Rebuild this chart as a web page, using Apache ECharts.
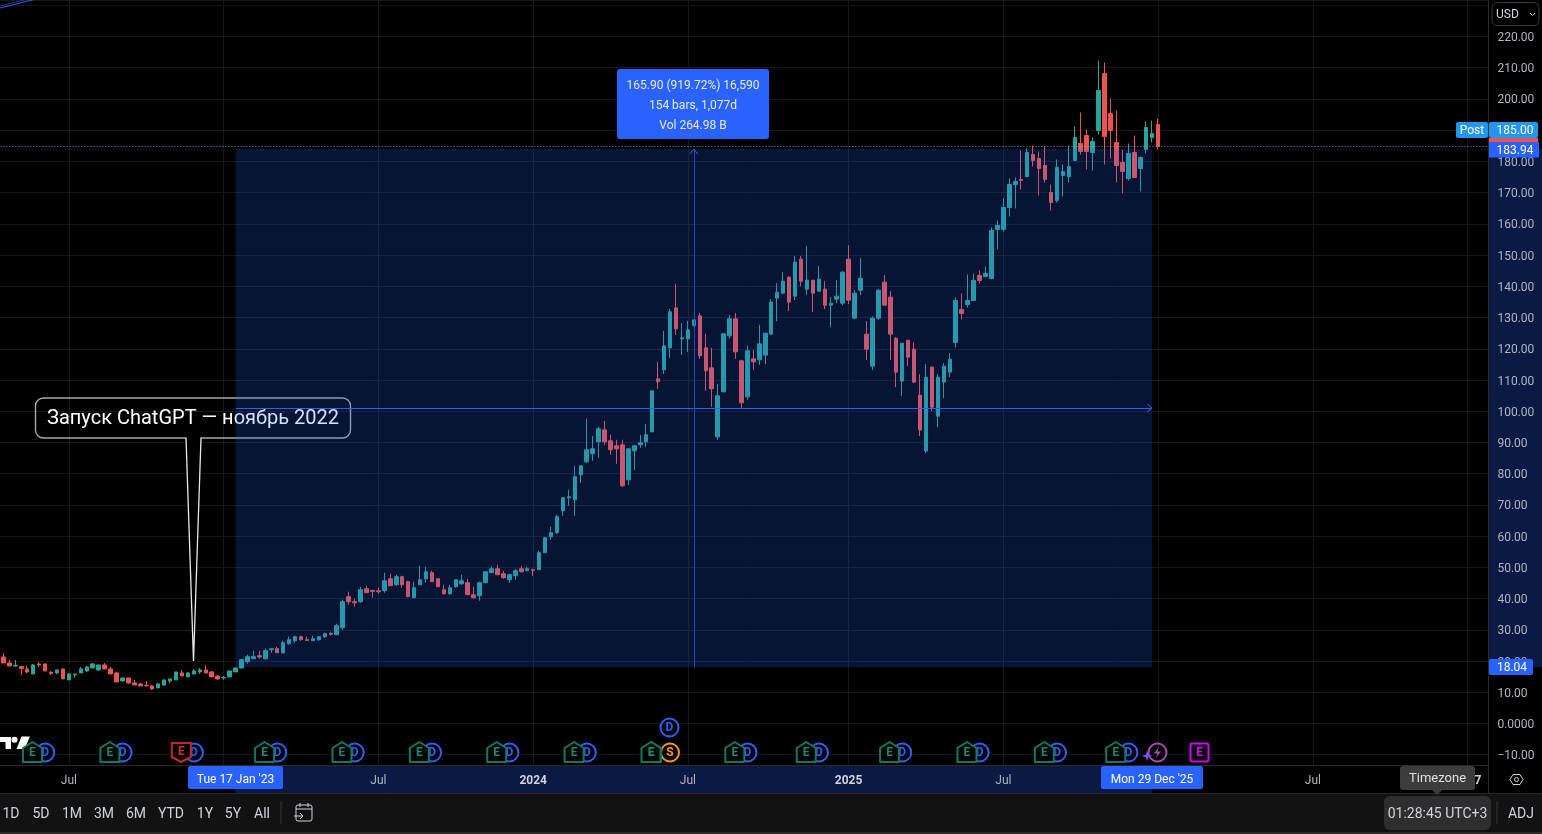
<!DOCTYPE html>
<html><head><meta charset="utf-8">
<style>html,body{margin:0;padding:0;background:#000;overflow:hidden}#c{width:1542px;height:834px}</style>
<script src="https://cdn.jsdelivr.net/npm/echarts@6/dist/echarts.min.js"></script>
</head><body><div id="c"></div>
<script>
const firstWeek = '2022-04-18';
const weekCount = 250;
const opens = [21.31,19.39,18.43,18.22,17.47,15.87,19.07,19.07,16.40,16.19,
17.47,13.95,15.55,16.19,16.83,17.79,17.15,18.75,17.47,16.19,
13.63,14.59,12.99,12.67,12.24,12.03,11.39,12.35,13.63,13.95,
16.19,14.91,15.87,16.51,17.15,16.51,15.23,14.59,14.91,16.51,
17.76,19.79,20.75,21.71,20.75,23.63,23.95,22.67,25.55,26.51,
27.79,26.83,26.51,26.83,27.79,28.86,28.43,30.67,40.60,39.00,
39.00,43.16,42.62,42.52,42.52,46.36,44.44,47.00,45.40,40.28,
44.44,46.36,48.28,46.36,42.84,41.56,43.80,44.76,45.08,41.24,
40.92,45.08,48.28,49.56,47.96,46.04,47.32,49.56,48.92,49.24,
49.24,54.68,59.81,61.09,68.11,72.27,71.63,79.64,83.80,86.36,
90.20,94.04,90.52,88.92,89.24,78.04,87.32,89.24,90.20,93.40,
110.37,113.25,120.30,133.10,123.18,123.18,127.34,130.54,120.30,113.89,
91.80,106.21,124.14,129.58,116.13,104.61,116.78,116.45,117.96,124.68,
136.21,137.81,142.93,136.85,148.70,139.09,141.97,138.45,139.09,133.97,
135.89,134.61,148.70,129.81,138.77,124.68,114.44,129.81,141.33,136.53,
123.40,109.64,122.76,119.88,105.15,87.23,114.12,98.43,109.32,112.52,
122.03,132.59,134.19,135.47,143.48,143.16,142.52,158.21,158.21,165.25,
172.61,174.21,175.17,182.22,180.94,178.70,170.05,167.49,175.49,175.17,
180.30,185.74,188.30,182.86,189.90,208.15,195.34,186.06,179.66,174.53,
182.86,177.74,183.82,187.66,191.82];
const closes = [19.39,18.43,18.64,17.58,16.51,18.75,18.75,16.83,15.98,17.15,
14.27,15.87,15.87,17.47,18.11,19.07,18.75,17.47,15.87,13.31,
14.59,12.99,12.35,12.03,12.03,11.07,12.67,13.95,14.27,16.51,
15.23,16.19,16.83,17.15,16.19,14.91,14.27,14.80,16.83,17.79,
20.43,21.39,21.39,21.28,23.31,23.95,22.67,25.87,26.83,27.79,
26.83,26.62,27.15,27.79,28.75,28.54,31.31,39.00,39.00,38.68,
42.84,41.88,42.30,42.20,45.72,44.12,47.00,44.44,40.60,43.48,
46.04,48.60,45.40,43.80,41.56,43.48,46.04,45.72,41.24,40.28,
45.08,48.60,49.56,47.64,46.68,47.64,48.92,48.60,49.56,49.03,
54.68,59.49,61.09,66.21,72.27,72.59,79.00,82.52,87.64,87.96,
94.36,90.20,87.64,87.96,76.11,87.96,88.92,89.88,92.44,106.53,
109.41,120.94,131.82,126.38,123.50,126.06,129.26,117.74,112.93,107.17,
104.93,124.78,129.58,119.02,102.69,119.34,115.81,121.58,125.00,134.93,
138.13,141.65,134.93,147.74,141.65,141.97,137.81,142.29,133.97,134.61,
136.85,144.53,135.57,137.81,142.61,119.88,129.81,138.77,133.97,124.68,
112.52,121.80,117.32,109.32,93.95,110.92,101.31,110.92,114.44,116.68,
135.47,131.31,135.47,141.88,141.88,144.12,157.89,159.49,165.25,172.61,
173.57,173.89,182.86,180.30,177.74,174.21,166.85,178.06,176.78,178.38,
187.66,183.18,183.18,186.38,202.71,187.98,189.90,178.70,176.78,182.54,
174.85,181.26,190.86,188.94,184.78];
const lows = [19.39,18.43,18.11,15.55,15.98,15.87,18.11,16.83,15.55,15.76,
14.27,13.95,14.59,16.19,16.51,17.79,16.83,17.47,15.87,13.31,
13.31,12.67,12.35,12.03,12.03,10.75,11.39,12.03,12.99,13.95,
15.23,14.91,15.55,15.87,16.19,14.91,13.95,13.95,14.91,16.51,
17.76,19.15,20.75,20.75,20.43,22.67,22.67,22.35,25.23,25.87,
26.51,26.51,26.51,26.51,27.47,28.11,28.43,30.03,38.04,37.40,
38.68,41.88,40.28,41.56,41.88,44.12,44.12,43.48,40.60,40.28,
44.44,45.08,45.40,43.80,41.24,41.24,43.48,44.44,41.24,39.96,
39.32,45.08,48.28,47.64,46.36,45.08,46.04,48.28,48.92,47.32,
49.24,54.68,58.85,60.77,66.51,69.71,66.51,77.08,83.48,84.12,
85.08,89.24,86.04,83.16,75.79,76.43,81.24,88.28,88.60,93.40,
107.17,111.97,117.10,124.46,118.06,119.02,127.34,116.78,106.53,101.41,
90.84,106.21,123.18,116.78,101.09,103.65,113.25,114.85,115.08,124.68,
128.85,137.49,132.05,135.57,140.05,137.17,131.73,138.45,132.69,126.93,
134.61,133.97,134.29,129.49,137.17,116.36,113.16,129.17,133.97,116.36,
107.72,104.83,114.44,109.00,92.03,86.58,100.03,94.91,104.19,110.92,
120.43,129.39,133.23,135.47,140.92,142.84,142.20,151.80,157.57,162.37,
164.93,171.01,174.85,178.38,169.09,173.25,164.29,166.85,168.77,173.25,
180.30,182.22,177.42,177.10,188.62,179.02,180.94,173.25,169.73,173.89,
174.85,170.37,182.54,186.06,183.82];
const highs = [22.59,20.35,20.35,18.43,18.43,19.07,19.71,19.07,16.83,17.15,
17.47,16.08,15.87,18.11,18.43,19.39,18.75,19.39,18.11,16.51,
14.59,14.59,13.95,12.99,13.63,12.35,12.99,13.95,14.27,16.51,
17.15,16.51,17.47,17.79,18.75,16.83,15.23,15.23,16.83,17.79,
20.75,22.03,23.31,23.31,23.95,23.95,24.59,26.51,27.79,28.11,
28.11,27.79,28.11,27.79,29.07,29.39,31.95,39.64,42.20,39.96,
43.80,44.12,42.84,43.48,48.28,47.96,47.64,47.32,45.72,45.40,
50.52,50.20,48.92,46.36,44.44,44.44,46.04,47.64,46.36,43.80,
45.40,48.60,50.20,50.84,48.92,47.96,49.56,50.52,50.20,49.56,
55.32,59.49,63.01,66.85,72.27,74.83,82.52,82.52,97.57,92.12,
95.00,96.93,92.44,90.84,90.84,88.28,89.24,92.44,95.96,106.53,
115.81,125.74,132.78,140.79,128.30,128.94,129.26,131.50,124.78,120.30,
108.77,125.10,130.86,131.50,116.45,120.94,119.66,127.66,125.00,135.89,
141.01,144.53,143.25,149.66,149.66,152.86,141.97,146.45,141.65,136.53,
141.97,144.85,153.18,138.77,149.02,128.85,130.45,139.09,143.57,138.45,
123.72,121.80,122.76,122.12,111.88,115.08,114.44,111.88,115.40,118.60,
136.43,137.72,143.80,144.12,145.08,146.36,158.85,161.09,168.13,174.53,
174.85,183.50,184.14,185.10,183.18,184.78,172.61,180.62,179.02,185.10,
191.18,195.66,190.22,187.66,212.31,211.67,200.15,196.30,183.82,185.74,
188.30,181.58,192.78,193.10,193.74];
const timeTickWeeks = [11,37,63,89,115,142,168,194,220,246];
const timeTickLabels = ['Jul','2023','Jul','2024','Jul','2025','Jul','2026','Jul','2027'];
const earningsWeeks = [5,18,30,44,57,70,83,96,109,123,135,149,162,175,187];
const dividendWeeks = [5,18,30,44,57,70,83,96,123,135,149,162,175,187];
const lastClose = 184.78;
const anchorWeek = 39, endWeek = 193, midWeek = 116;
const anchorPrice = 18.04, endPrice = 183.94, midPrice = 100.99;
const FONT = 'Roboto, "Noto Sans", sans-serif';

const categories = [];
{ const d = new Date(firstWeek + 'T00:00:00Z');
  for (let i = 0; i < weekCount; i++) { categories.push(d.toISOString().slice(0,10)); d.setUTCDate(d.getUTCDate()+7); } }
const candleData = opens.map((o,i)=>[o,closes[i],lows[i],highs[i]]);
const tickMap = new Map(timeTickWeeks.map((w,i)=>[w,timeTickLabels[i]]));

const chart = echarts.init(document.getElementById('c'), null, {renderer:'canvas', width:1542, height:834});
const yScale = {type:'value', min:-20, max:231.69, interval:10, position:'right'};
chart.setOption({
  backgroundColor:'#000', animation:false,
  grid:{left:0.45, width:1488, top:0, height:785.95, containLabel:false},
  xAxis:[
    {type:'category', data:categories, boundaryGap:true, axisLine:{show:false}, axisTick:{show:false}, axisLabel:{show:false},
     splitLine:{show:true, alignWithLabel:true, interval:(i)=>tickMap.has(i), lineStyle:{color:'#161616', width:1}}},
    {type:'category', data:categories, boundaryGap:true, position:'bottom', z:30, axisLine:{show:false}, axisTick:{show:false}, splitLine:{show:false},
     axisLabel:{show:true, margin:-5, verticalAlign:'middle', interval:(i)=>tickMap.has(i), hideOverlap:false,
       formatter:(v,i)=>{const t=tickMap.get(i)||''; return /^\d/.test(t)?'{b|'+t+'}':'{n|'+t+'}';},
       rich:{b:{fontFamily:FONT,fontSize:12,fontWeight:'bold',color:'#d1d4dc'},n:{fontFamily:FONT,fontSize:12,color:'#b2b5be'}}}}
  ],
  yAxis:[
    {...yScale, axisLine:{show:false}, axisTick:{show:false}, axisLabel:{show:false}, splitLine:{show:true, lineStyle:{color:'#161616', width:1}}},
    {...yScale, z:30, axisLine:{show:false}, axisTick:{show:false}, splitLine:{show:false},
     axisLabel:{show:true, margin:9, align:'left', verticalAlign:'middle',
       formatter:(v)=>{ let s; if(v===0) s='0.0000'; else if(v<=-20||v>=225) return ''; else s=(v<0?'\u2212'+Math.abs(v).toFixed(2):v.toFixed(2)); return '{p|'+s+'}'; },
       rich:{p:{fontFamily:FONT,fontSize:12,color:'#b2b5be',padding:[3,0,0,0]}}}}
  ],
  series:[
    {type:'candlestick', data:candleData, barWidth:4, z:2, clip:false,
     itemStyle:{color:'#26a69a',color0:'#ef5350',borderColor:'#26a69a',borderColor0:'#ef5350',borderWidth:1},
     emphasis:{disabled:true}, silent:true},
    {type:'line', data:[], z:3, silent:true, symbol:'none',
     markLine:{silent:true, z:12, symbol:'none', label:{show:false}, animation:false,
       lineStyle:{color:'#3aa8ff', type:[1,2], width:1, opacity:1},
       data:[{yAxis:lastClose}]}},
    {type:'line', data:[], z:5, silent:true, symbol:'none',
     markArea:{silent:true, z:10, animation:false, itemStyle:{color:'rgba(41,98,255,0.2)',borderWidth:0}, label:{show:false},
       data:[[{coord:[anchorWeek,anchorPrice]},{coord:[endWeek,endPrice]}]]},
     markLine:{silent:true, z:11, animation:false, symbol:'none', label:{show:false},
       lineStyle:{color:'#2962ff', type:'solid', width:1, opacity:1},
       data:[[{coord:[anchorWeek,midPrice],lineStyle:{color:'#2962ff'}},{coord:[endWeek,midPrice]}],
             [{coord:[midWeek,anchorPrice],lineStyle:{color:'#2149b8'}},{coord:[midWeek,endPrice]}]]}}
  ]
});

const px = (w,p)=>chart.convertToPixel({gridIndex:0},[w,p]);
const xOf = w=>px(w,0)[0];
const yOf = p=>px(0,p)[1];
const g = [];
const rect=(x,y,w,h,fill,z,extra={})=>g.push({type:'rect',z,silent:true,shape:{x,y,width:w,height:h,r:extra.r||0},style:{fill,stroke:extra.stroke||null,lineWidth:extra.lw||0}});
const text=(s,x,y,font,fill,z,align='center')=>g.push({type:'text',z,silent:true,style:{text:s,x,y:y+1,font,fill,align,verticalAlign:'middle'}});
const line=(x1,y1,x2,y2,stroke,z,lw=1)=>g.push({type:'line',z,silent:true,shape:{x1,y1,x2,y2},style:{stroke,lineWidth:lw}});
const poly=(pts,fill,stroke,z,lw=1.5)=>g.push({type:'polygon',z,silent:true,shape:{points:pts},style:{fill,stroke,lineWidth:lw,lineJoin:'round'}});
const pline=(pts,stroke,z,lw=1.5)=>g.push({type:'polyline',z,silent:true,shape:{points:pts},style:{stroke,lineWidth:lw,fill:null}});
const circ=(cx,cy,r,fill,stroke,z,lw=2)=>g.push({type:'circle',z,silent:true,shape:{cx,cy,r},style:{fill,stroke,lineWidth:lw}});

// top-left stray trend line
line(0,8,36,-1,'#2962ff',6,1); line(0,6,28,-1,'#1b3a8f',6,1);

// callout (sits beneath the measure overlay)
rect(35.5,398,315,40,'rgba(0,0,0,0)',4,{r:8,stroke:'#a8a8a8',lw:1.4});
poly([[186,438],[193.5,661],[201,438]],'#000',null,4.1,0);
line(186.8,438,200.2,438,'#000',4.2,2.2);
pline([[186,438],[193.5,661],[201,438]],'#e8e8e8',4.3,1.3);
text('Запуск ChatGPT — ноябрь 2022',193,418,'20px '+FONT,'#ffffff',4.4);

// measure arrow heads
const [ex,my]=px(endWeek,midPrice), [mx,ty]=px(midWeek,endPrice);
pline([[ex-5,my-4],[ex,my],[ex-5,my+4]],'#2962ff',12,1);
pline([[mx-4,ty+5],[mx,ty],[mx+4,ty+5]],'#2962ff',12,1);

// measure box
rect(617,69,152,70,'#2962ff',20,{r:3});
text('165.90 (919.72%) 16,590',693,85,'12px '+FONT,'#e6ebff',21);
text('154 bars, 1,077d',693,105,'12px '+FONT,'#e6ebff',21);
text('Vol 264.98 B',693,125,'12px '+FONT,'#e6ebff',21);

// time-axis strip, price-axis strip, toolbar
rect(0,765,1542,69,'#000',20);
rect(xOf(anchorWeek),766,xOf(endWeek)-xOf(anchorWeek),27,'#0a1a45',21);
rect(1489,yOf(endPrice),53,yOf(anchorPrice)-yOf(endPrice),'#0a1a45',1);
line(0,765.5,1488,765.5,'#2a2a2a',22);
line(1488.5,0,1488.5,793,'#2a2a2a',22);
rect(0,793,1542,41,'#121212',23);
line(0,793.5,1542,793.5,'#2a2a2a',24);
rect(0,832,1542,2,'#2a2a2a',24);

// tags on axes
rect(188,766,95,23,'#2962ff',40,{r:2});
text("Tue 17 Jan '23",235.5,779,'12px '+FONT,'#ffffff',41);
rect(1101,766,102,23,'#2962ff',40,{r:2});
text("Mon 29 Dec '25",1152,779,'12px '+FONT,'#ffffff',41);
rect(1456,122,32,16,'#2196f3',40,{r:2});
text('Post',1472,130,'12px '+FONT,'#ffffff',41);
rect(1489,122,49,16,'#2196f3',40,{r:2});
text('185.00',1515,129.5,'12px '+FONT,'#ffffff',41);
rect(1489,138,49,4,'#ef5350',39);
rect(1489,142,50,15.5,'#2962ff',40);
text('183.94',1515,149.5,'12px '+FONT,'#ffffff',41);
rect(1489,659,44,16,'#2962ff',40,{r:2});
text('18.04',1512,667,'12px '+FONT,'#ffffff',41);
rect(1492,2.5,47,23,'#000',40,{r:5,stroke:'#3a3a3a',lw:1});
text('USD',1496,13.5,'12px '+FONT,'#d1d4dc',41,'left');
pline([[1530,13],[1532.5,15.5],[1535,13]],'#d1d4dc',41,1);

// settings hex
poly([[1510,779.5],[1513,774.5],[1520,774.5],[1523,779.5],[1520,784.5],[1513,784.5]],null,'#d1d4dc',41,1);
circ(1516.5,779.5,2,null,'#d1d4dc',41,1);

// toolbar
[['1D',11],['5D',41],['1M',72],['3M',104],['6M',136],['YTD',171],['1Y',205],['5Y',233],['All',262]].forEach(([t,x])=>text(t,x,813,'14px '+FONT,'#d1d4dc',41));
line(281,802,281,824,'#3a3a3a',41);
rect(296,805,16,16,null,41,{r:2,stroke:'#d1d4dc',lw:1});
line(296,809,312,809,'#d1d4dc',41); line(300,803,300,807,'#d1d4dc',41); line(308,803,308,807,'#d1d4dc',41);
pline([[294,816],[303,816]],'#d1d4dc',42,1); pline([[300,813],[303,816],[300,819]],'#d1d4dc',42,1);
rect(1384,796,107,34,'#2e2e2e',41,{r:6});
text('01:28:45 UTC+3',1437.5,813,'14px '+FONT,'#d1d4dc',42);
line(1497,802,1497,824,'#3a3a3a',41);
text('ADJ',1521,813,'14px '+FONT,'#d1d4dc',41);
rect(1400,766,75,24,'#3c3c3c',44,{r:3});
poly([[1432,790],[1442,790],[1437,795]],'#3c3c3c',null,44,0);
text('Timezone',1437.5,778,'13px '+FONT,'#e0e0e0',45);

// logo
poly([[0,737],[11,737],[11,749],[5.5,749],[5.5,742],[0,742]],'#fff',null,25,0);
circ(14.5,739.7,3,'#fff',null,25,0);
poly([[21.5,736.5],[30,736.5],[24.5,749],[16.5,749]],'#fff',null,25,0);

// event badges
const by=752.5;
const dCircle=(cx,cy,z,letter)=>{circ(cx,cy,9,'#000','#2962ff',z);text(letter,cx,cy-0.5,'bold 12px '+FONT,'#2962ff',z+0.1);};
dividendWeeks.forEach(w=>dCircle(xOf(w)+12,by,26,'D'));
earningsWeeks.forEach((w,i)=>{
  const cx=xOf(w)-0.7, red=(w===30);
  const c=red?'#c62828':'#0b7a66';
  const pts=red?[[cx-9.5,743],[cx+9.5,743],[cx+9.5,757],[cx,762],[cx-9.5,757]]:[[cx,742],[cx+9.5,748],[cx+9.5,762],[cx-9.5,762],[cx-9.5,748]];
  poly(pts,'#000',c,27,2);
  text('E',cx,red?751:752,'bold 12px '+FONT,red?'#d32f2f':'#0f8a74',27.1);
});
// splits and others
circ(670,752.5,9,'#000','#ff9800',26.5);
poly([[651,742],[660.5,748],[660.5,762],[641.5,762],[641.5,748]],'#000','#0b7a66',27,2);
text('E',651,752,'bold 12px '+FONT,'#0f8a74',27.1);
text('S',670,752,'bold 12px '+FONT,'#ff9800',26.6);
dCircle(669.5,727.5,26,'D');
circ(1157.5,752.5,9,'#000','#ab47bc',26);
poly([[1159,746.5],[1154,753.5],[1157.5,753.5],[1155.5,758.5],[1161,751.5],[1157.5,751.5]],'#ab47bc',null,26.2,0);
poly([[1147,750.5],[1148.2,754.8],[1152.5,756],[1148.2,757.2],[1147,761.5],[1145.8,757.2],[1141.5,756],[1145.8,754.8]],'#7c4dff',null,27,0);
rect(1190.5,743.5,18,18,'#000',26,{r:2,stroke:'#d500f9',lw:2});
text('E',1199.5,752,'bold 12px '+FONT,'#d500f9',26.2);

chart.setOption({graphic:{elements:g}});
</script></body></html>
